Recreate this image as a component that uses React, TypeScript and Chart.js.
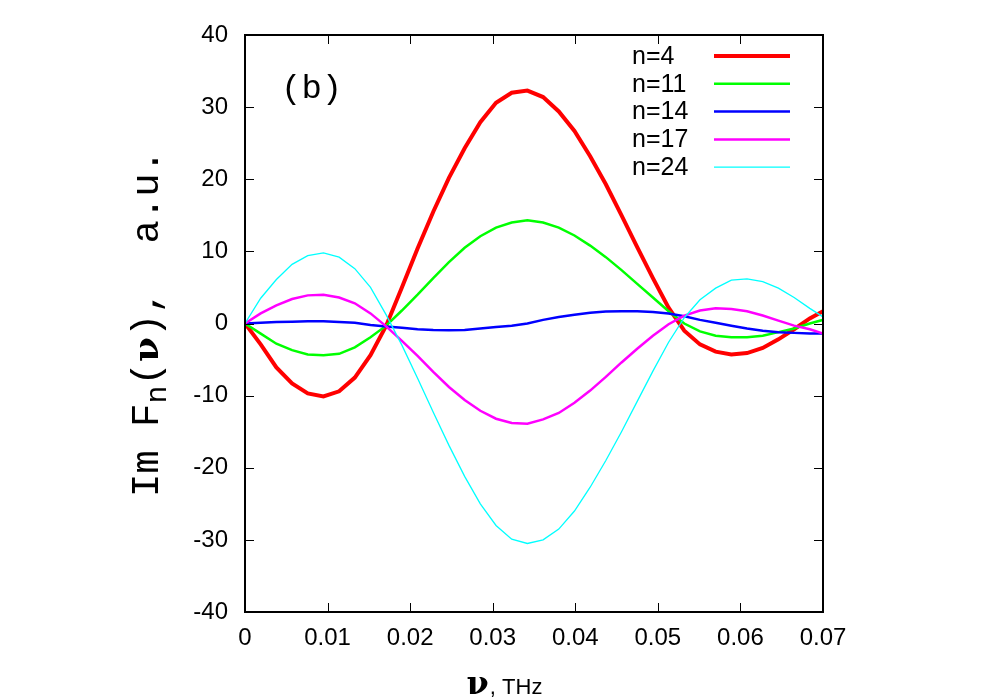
import { useEffect, useRef } from 'react';
import { Chart, registerables } from 'chart.js';

Chart.register(...registerables);

// frequency grid, THz
const nu = [
  0, 0.0019, 0.0038, 0.0057, 0.0076, 0.0095, 0.0114, 0.0133, 0.0152, 0.0171,
  0.019, 0.0209, 0.0228, 0.0247, 0.0266, 0.0285, 0.0304, 0.0323, 0.0342, 0.0361,
  0.038, 0.0399, 0.0418, 0.0437, 0.0456, 0.0475, 0.0494, 0.0513, 0.0532, 0.0551,
  0.057, 0.0589, 0.0608, 0.0627, 0.0646, 0.0665, 0.0684, 0.0703,
];

const n4 = [
  0, -2.9, -6.1, -8.3, -9.7, -10.1, -9.4, -7.5, -4.4, -0.3,
  5.0, 10.4, 15.5, 20.2, 24.3, 27.9, 30.6, 32.0, 32.3, 31.4,
  29.4, 26.7, 23.2, 19.3, 15.0, 10.6, 6.3, 2.2, -1.0, -2.9,
  -3.9, -4.3, -4.1, -3.4, -2.2, -0.8, 0.7, 1.9,
];
const n11 = [
  0, -1.4, -2.8, -3.7, -4.3, -4.4, -4.2, -3.3, -1.9, -0.3,
  1.8, 4.0, 6.3, 8.5, 10.5, 12.1, 13.3, 14.0, 14.3, 14.0,
  13.3, 12.2, 10.8, 9.2, 7.4, 5.5, 3.6, 1.7, 0.0, -1.1,
  -1.7, -1.9, -1.9, -1.7, -1.2, -0.7, 0, 0.6,
];
const n14 = [
  0, 0.1, 0.2, 0.25, 0.3, 0.3, 0.2, 0.1, -0.2, -0.4,
  -0.6, -0.8, -0.9, -0.95, -0.9, -0.7, -0.5, -0.3, 0.0, 0.5,
  0.9, 1.2, 1.5, 1.65, 1.7, 1.7, 1.6, 1.4, 1.0, 0.5,
  0.1, -0.3, -0.7, -1.0, -1.2, -1.3, -1.4, -1.4,
];
const n17 = [
  0, 1.4, 2.5, 3.4, 3.9, 4.0, 3.6, 2.8, 1.4, -0.4,
  -2.4, -4.5, -6.7, -8.8, -10.6, -12.1, -13.2, -13.8, -13.9, -13.3,
  -12.4, -11.0, -9.3, -7.4, -5.4, -3.5, -1.7, -0.1, 1.1, 1.8,
  2.1, 2.0, 1.7, 1.1, 0.4, -0.3, -0.8, -1.5,
];
const n24 = [
  0, 3.5, 6.1, 8.2, 9.4, 9.8, 9.2, 7.6, 5.0, 1.2,
  -3.0, -7.6, -12.3, -16.9, -21.2, -25.0, -28.0, -29.9, -30.5, -30.0,
  -28.5, -26.0, -22.7, -19.0, -15.0, -10.8, -6.6, -2.6, 0.8, 3.3,
  4.9, 6.0, 6.2, 5.8, 4.9, 3.6, 2.1, 0.7,
];

const seriesNames = ['n=4', 'n=11', 'n=14', 'n=17', 'n=24'];
const seriesValues = [n4, n11, n14, n17, n24];
const seriesColors = ['#ff0000', '#00ff00', '#0000ff', '#ff00ff', '#00ffff'];
const seriesWidths = [4, 2.5, 2.5, 2.5, 1.3];

const tickFont = '"Liberation Sans", Arial, sans-serif';
const monoFont = '"Liberation Mono", "Courier New", monospace';

// frame, inward ticks, legend and titles, all placed from the chart's scales
const decorations = {
  id: 'decorations',
  afterDraw(chart: Chart) {
    const ctx = chart.ctx;
    const { left, right, top, bottom } = chart.chartArea;
    const xs = chart.scales.x;
    const ys = chart.scales.y;
    ctx.save();

    // inward tick marks on all four sides
    ctx.strokeStyle = '#000';
    ctx.lineWidth = 1;
    const tl = 9;
    ctx.beginPath();
    xs.ticks.forEach((t) => {
      const px = Math.round(xs.getPixelForValue(t.value)) + 0.5;
      ctx.moveTo(px, bottom);
      ctx.lineTo(px, bottom - tl);
      ctx.moveTo(px, top);
      ctx.lineTo(px, top + tl);
    });
    ys.ticks.forEach((t) => {
      const py = Math.round(ys.getPixelForValue(t.value)) + 0.5;
      ctx.moveTo(left, py);
      ctx.lineTo(left + tl, py);
      ctx.moveTo(right, py);
      ctx.lineTo(right - tl, py);
    });
    ctx.stroke();

    // frame
    ctx.lineWidth = 2;
    ctx.strokeRect(left, top, right - left, bottom - top);

    // legend
    ctx.fillStyle = '#000';
    ctx.font = `25px ${tickFont}`;
    ctx.textAlign = 'left';
    ctx.textBaseline = 'middle';
    seriesNames.forEach((name, i) => {
      const y = top + 21 + i * 27.8;
      ctx.fillText(name, 632, y + 1);
      ctx.strokeStyle = seriesColors[i];
      ctx.lineWidth = seriesWidths[i];
      ctx.beginPath();
      ctx.moveTo(714, y);
      ctx.lineTo(790, y);
      ctx.stroke();
    });

    // panel label
    ctx.fillStyle = '#000';
    ctx.textBaseline = 'alphabetic';
    ctx.font = `34px ${monoFont}`;
    ctx.fillText('(b)', 281, 98);

    // x axis title: ν, THz
    const nuFont = 'bold 32px "DejaVu Serif", serif';
    const unitFont = `22px ${tickFont}`;
    ctx.font = nuFont;
    const w1 = ctx.measureText('ν').width;
    ctx.font = unitFont;
    const w2 = ctx.measureText(', THz').width;
    const x0 = (left + right) / 2 - 30 - (w1 + w2) / 2;
    ctx.font = nuFont;
    ctx.fillText('ν', x0, 694);
    ctx.font = unitFont;
    ctx.fillText(', THz', x0 + w1 + 1, 694);

    // y axis title: Im Fn(ν),  a.u.
    const pieces = [
      { t: 'Im F', f: `39px ${monoFont}`, dy: 0 },
      { t: 'n', f: `30px ${monoFont}`, dy: 8 },
      { t: '(', f: `39px ${monoFont}`, dy: 0 },
      { t: 'ν', f: 'bold 36px "DejaVu Serif", serif', dy: 0 },
      { t: '),  a.u.', f: `39px ${monoFont}`, dy: 0 },
    ];
    let total = 0;
    const widths = pieces.map((p) => {
      ctx.font = p.f;
      const w = ctx.measureText(p.t).width;
      total += w;
      return w;
    });
    ctx.translate(158, (top + bottom) / 2);
    ctx.rotate(-Math.PI / 2);
    let lx = -total / 2;
    pieces.forEach((p, i) => {
      ctx.font = p.f;
      ctx.fillText(p.t, lx, p.dy);
      lx += widths[i];
    });

    ctx.restore();
  },
};

export default function App() {
  const canvasRef = useRef<HTMLCanvasElement>(null);
  const chartRef = useRef<Chart | null>(null);

  useEffect(() => {
    if (!canvasRef.current) return;
    if (chartRef.current) chartRef.current.destroy();

    chartRef.current = new Chart(canvasRef.current, {
      type: 'line',
      data: {
        datasets: seriesNames.map((name, i) => ({
          label: name,
          data: nu.map((x, k) => ({ x, y: seriesValues[i][k] })),
          borderColor: seriesColors[i],
          backgroundColor: seriesColors[i],
          borderWidth: seriesWidths[i],
          pointRadius: 0,
          tension: 0,
          fill: false,
          order: seriesNames.length - i,
        })),
      },
      options: {
        responsive: false,
        animation: false,
        devicePixelRatio: 1,
        layout: { padding: { left: 0, top: 35, right: 177, bottom: 0 } },
        plugins: {
          legend: { display: false },
          tooltip: { enabled: false },
        },
        scales: {
          x: {
            type: 'linear',
            min: 0,
            max: 0.07,
            grid: { display: false, drawTicks: false },
            border: { display: false },
            ticks: {
              stepSize: 0.01,
              autoSkip: false,
              maxRotation: 0,
              padding: 12,
              color: '#000',
              font: { family: tickFont, size: 24 },
              callback: (v) => String(Number(Number(v).toFixed(2))),
            },
            afterFit: (scale) => {
              scale.height = 88;
            },
          },
          y: {
            min: -40,
            max: 40,
            grid: { display: false, drawTicks: false },
            border: { display: false },
            ticks: {
              stepSize: 10,
              autoSkip: false,
              padding: 17,
              color: '#000',
              font: { family: tickFont, size: 24 },
              callback: (v) => String(v),
            },
            afterFit: (scale) => {
              scale.width = 245;
            },
          },
        },
      },
      plugins: [decorations],
    });

    return () => {
      if (chartRef.current) {
        chartRef.current.destroy();
        chartRef.current = null;
      }
    };
  }, []);

  return (
    <div style={{ position: 'absolute', left: 0, top: 0, width: 1000, height: 700, background: '#fff' }}>
      <canvas ref={canvasRef} width={1000} height={700} style={{ width: 1000, height: 700 }} />
    </div>
  );
}
